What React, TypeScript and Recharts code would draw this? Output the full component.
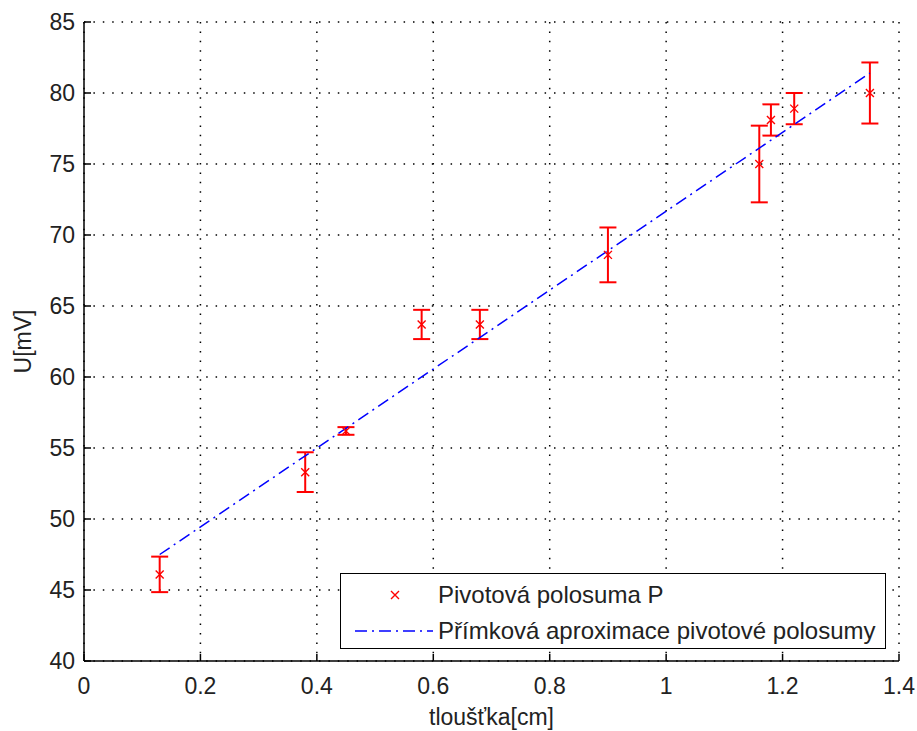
import React from 'react';
import {
  ComposedChart,
  Scatter,
  XAxis,
  YAxis,
  CartesianGrid,
  ErrorBar,
  Legend,
} from 'recharts';

// ---- data ----
const thickness = [0.13, 0.38, 0.45, 0.58, 0.68, 0.9, 1.16, 1.18, 1.22, 1.35];
const voltage = [46.1, 53.3, 56.2, 63.7, 63.7, 68.6, 75.0, 78.1, 78.9, 80.0];
const voltageErr = [1.25, 1.4, 0.27, 1.03, 1.03, 1.93, 2.7, 1.1, 1.1, 2.15];

const fitX = [0.13, 1.35];
const fitY = [47.5, 81.4];

const xTicks = [0, 0.2, 0.4, 0.6, 0.8, 1, 1.2, 1.4];
const yTicks = [40, 45, 50, 55, 60, 65, 70, 75, 80, 85];

const seriesName = 'Pivotová polosuma P';
const fitName = 'Přímková aproximace pivotové polosumy';
const xLabel = 'tloušťka[cm]';
const yLabel = 'U[mV]';

const points = thickness.map((x, i) => ({ x, y: voltage[i], err: voltageErr[i] }));
const fitData = fitX.map((x, i) => ({ x, y: fitY[i] }));

const FONT = '"Liberation Sans", Arial, sans-serif';
const FS = 23;
const LFS = 24;
const RED = '#ff0000';
const BLUE = '#0000ff';
const DASHDOT = '12 5 2 5';

const Cross = (props: any) => {
  const { cx, cy } = props;
  if (cx == null || cy == null) return <g />;
  const s = 4;
  return (
    <path
      d={`M${cx - s},${cy - s}L${cx + s},${cy + s}M${cx - s},${cy + s}L${cx + s},${cy - s}`}
      stroke={RED}
      strokeWidth={1.4}
      fill="none"
    />
  );
};

const NoShape = () => <g />;

const BottomTick = (props: any) => {
  const { x, y, payload } = props;
  return (
    <g>
      <line x1={x} x2={x} y1={y} y2={y - 7} stroke="#000" strokeWidth={1.5} />
      <text x={x} y={y + 33} textAnchor="middle" fontFamily={FONT} fontSize={FS} fill="#222">
        {String(payload.value)}
      </text>
    </g>
  );
};

const TopTick = (props: any) => {
  const { x, y } = props;
  return <line x1={x} x2={x} y1={y} y2={y + 7} stroke="#000" strokeWidth={1.5} />;
};

const LeftTick = (props: any) => {
  const { x, y, payload } = props;
  return (
    <g>
      <line x1={x} x2={x + 7} y1={y} y2={y} stroke="#000" strokeWidth={1.5} />
      <text x={x - 9} y={y + 8} textAnchor="end" fontFamily={FONT} fontSize={FS} fill="#222">
        {String(payload.value)}
      </text>
    </g>
  );
};

const RightTick = (props: any) => {
  const { x, y } = props;
  return <line x1={x} x2={x - 7} y1={y} y2={y} stroke="#000" strokeWidth={1.5} />;
};

const LegendBox = () => (
  <div
    style={{
      width: 546,
      height: 76,
      border: '1.5px solid #000',
      background: '#fff',
      boxSizing: 'border-box',
      position: 'relative',
      fontFamily: FONT,
      fontSize: LFS,
      color: '#222',
    }}
  >
    <svg width={96} height={76} style={{ position: 'absolute', left: 0, top: 0 }}>
      <path d="M50,17L58,25M50,25L58,17" stroke={RED} strokeWidth={1.4} fill="none" />
      <line x1={14} x2={92} y1={57} y2={57} stroke={BLUE} strokeWidth={1.5} strokeDasharray={DASHDOT} />
    </svg>
    <div style={{ position: 'absolute', left: 97, top: 6, lineHeight: '30px', whiteSpace: 'nowrap' }}>
      {seriesName}
    </div>
    <div style={{ position: 'absolute', left: 97, top: 42, lineHeight: '30px', whiteSpace: 'nowrap' }}>
      {fitName}
    </div>
  </div>
);

export default function App() {
  return (
    <div style={{ position: 'absolute', left: 0, top: 0, width: 917, height: 731, background: '#fff' }}>
      <ComposedChart
        width={917}
        height={731}
        margin={{ top: 22, right: 18, bottom: 0, left: 0 }}
      >
        <CartesianGrid
          stroke="#000"
          strokeWidth={1.5}
          strokeDasharray="1.5 7.9"
          horizontalValues={yTicks}
          verticalValues={xTicks}
        />
        <XAxis
          dataKey="x"
          type="number"
          domain={[0, 1.4]}
          ticks={xTicks}
          allowDataOverflow
          height={70}
          tickSize={0}
          tickMargin={0}
          tick={<BottomTick />}
          axisLine={{ stroke: '#000', strokeWidth: 1.5 }}
          label={{ value: xLabel, position: 'insideBottom', offset: 6, fontFamily: FONT, fontSize: FS, fill: '#222' }}
        />
        <XAxis
          xAxisId="top"
          orientation="top"
          dataKey="x"
          type="number"
          domain={[0, 1.4]}
          ticks={xTicks}
          allowDataOverflow
          height={0}
          tickSize={0}
          tickMargin={0}
          tick={<TopTick />}
          axisLine={{ stroke: '#000', strokeWidth: 1.5 }}
        />
        <YAxis
          type="number"
          domain={[40, 85]}
          ticks={yTicks}
          allowDataOverflow
          width={84}
          tickSize={0}
          tickMargin={0}
          tick={<LeftTick />}
          axisLine={{ stroke: '#000', strokeWidth: 1.5 }}
          label={{
            content: (p: any) => {
              const vb = p.viewBox || {};
              const cx = (vb.x ?? 0) + 23;
              const cy = (vb.y ?? 0) + (vb.height ?? 0) / 2;
              return (
                <text
                  x={cx}
                  y={cy}
                  transform={`rotate(-90 ${cx} ${cy})`}
                  textAnchor="middle"
                  dominantBaseline="central"
                  fontFamily={FONT}
                  fontSize={FS}
                  fill="#222"
                >
                  {yLabel}
                </text>
              );
            },
          }}
        />
        <YAxis
          yAxisId="right"
          orientation="right"
          type="number"
          domain={[40, 85]}
          ticks={yTicks}
          allowDataOverflow
          width={0}
          tickSize={0}
          tickMargin={0}
          tick={<RightTick />}
          axisLine={{ stroke: '#000', strokeWidth: 1.5 }}
        />
        <Scatter
          name={fitName}
          data={fitData}
          dataKey="y"
          line={{ stroke: BLUE, strokeWidth: 1.5, strokeDasharray: DASHDOT }}
          lineType="joint"
          shape={<NoShape />}
          isAnimationActive={false}
        />
        <Scatter
          name={seriesName}
          data={points}
          dataKey="y"
          shape={<Cross />}
          isAnimationActive={false}
        >
          <ErrorBar dataKey="err" direction="y" width={8.5} stroke={RED} strokeWidth={2} isAnimationActive={false} />
        </Scatter>
        <Legend
          layout="vertical"
          align="center"
          verticalAlign="middle"
          content={<LegendBox />}
          wrapperStyle={{ position: 'absolute', left: 340, top: 573, width: 546, height: 76 }}
        />
      </ComposedChart>
    </div>
  );
}
